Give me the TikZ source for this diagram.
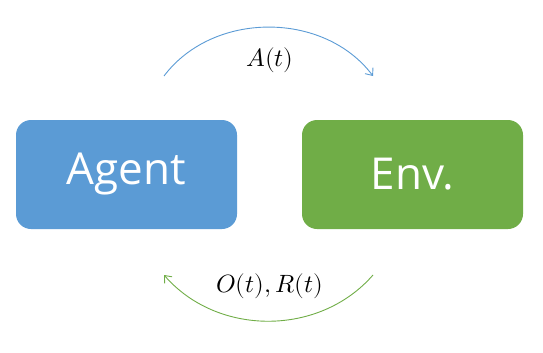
\documentclass[tikz,border=0pt]{standalone}
\usepackage{fontspec}
\usepackage{unicode-math}
\setmainfont{Open Sans}
\setmathfont{Latin Modern Math}
\usepackage{tikz}
\usetikzlibrary{positioning,calc,arrows.meta}
\definecolor{AgentBlue}{HTML}{5B9BD5}
\definecolor{EnvGreen}{HTML}{70AD47}

\tikzset{
	block/.style={
		rounded corners=15pt,
		minimum width=221pt,
		minimum height=109pt,
		text=white,
		font=\fontsize{44}{50}\selectfont
	},
	flow/.style={
		line width=0.9pt,
		-{Straight Barb[length=6pt,width=10pt]}
	},
	flowlabel/.style={
		font=\fontsize{25}{30}\selectfont
	}
}

\begin{document}
\begin{tikzpicture}[x=1pt,y=-1pt]
	\useasboundingbox (0,0) rectangle (543,353);
	
	\node[block, fill=AgentBlue] (agent) at (126.5,174.5) {Agent};
	\node[block, fill=EnvGreen] (env) at (412.5,174.5) {Env.};
	
	% action arc
	\coordinate (actStart) at (164,76);
	\coordinate (actEnd) at (373,76);
	\draw[flow, draw=AgentBlue] (actStart) to[bend left=53] (actEnd);
	\node[flowlabel] (action) at (270,60) {$A(t)$};
	
	% observation and reward arc
	\coordinate (obsStart) at (373,275);
	\coordinate (obsEnd) at (164,275);
	\draw[flow, draw=EnvGreen] (obsStart) to[bend left=49] (obsEnd);
	\node[flowlabel] (observe) at (270,286) {$O(t),R(t)$};
\end{tikzpicture}
\end{document}
